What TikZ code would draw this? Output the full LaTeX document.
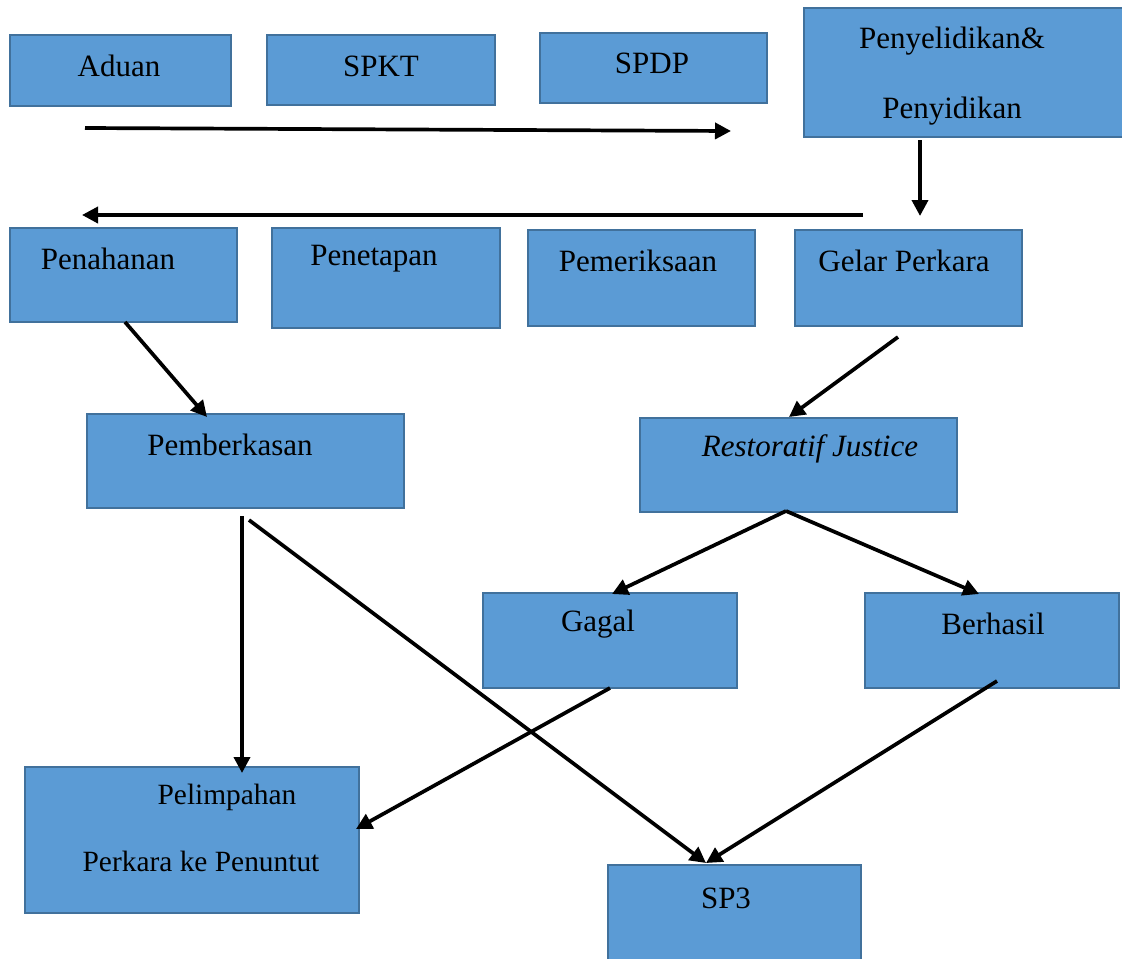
\documentclass[tikz,border=0pt]{standalone}
\usepackage{fontspec}
\setmainfont{Liberation Serif}
\usetikzlibrary{arrows.meta}
\definecolor{boxfill}{HTML}{5B9BD5}
\definecolor{boxline}{HTML}{41719C}
\begin{document}
\begin{tikzpicture}[x=0.5pt,y=-0.5pt,
  box/.style={draw=boxline,fill=boxfill,line width=1pt,inner sep=0pt,outer sep=0pt},
  txt/.style={inner sep=0pt,font=\fontsize{15.5}{18}\selectfont,text=black},
  smalltxt/.style={txt,font=\fontsize{14.7}{17}\selectfont},
  arr/.style={line width=1.85pt,-{Triangle[length=8pt,width=8pt]}}]
\useasboundingbox (0,0) rectangle (1122,958);
\begin{scope}
\clip (0,0) rectangle (1122,958);
% boxes
\node[box,minimum width=110.5pt,minimum height=35.5pt] (aduan) at (120,70) {};
\node[box,minimum width=114pt,minimum height=35pt] (spkt) at (381,70) {};
\node[box,minimum width=113.5pt,minimum height=35pt] (spdp) at (653.5,68) {};
\node[box,minimum width=162pt,minimum height=64.5pt] (lidik) at (966,72.5) {};
\node[box,minimum width=113.5pt,minimum height=47pt] (tahan) at (123.5,275) {};
\node[box,minimum width=114pt,minimum height=50pt] (tetap) at (386,278) {};
\node[box,minimum width=113.5pt,minimum height=48pt] (periksa) at (641.5,278) {};
\node[box,minimum width=113.5pt,minimum height=48pt] (gelar) at (908.5,278) {};
\node[box,minimum width=158.5pt,minimum height=47pt] (berkas) at (245.5,461) {};
\node[box,minimum width=158.5pt,minimum height=47pt] (rj) at (798.5,465) {};
\node[box,minimum width=127pt,minimum height=47.5pt] (gagal) at (610,640.5) {};
\node[box,minimum width=127pt,minimum height=47.5pt] (hasil) at (992,640.5) {};
\node[box,minimum width=167pt,minimum height=73pt] (limpah) at (192,840) {};
\node[box,minimum width=126.5pt,minimum height=50pt] (sp3) at (734.5,915) {};
\end{scope}
% texts
\node[txt] (t1) at (119,66) {Aduan};
\node[txt] (t2) at (381,66) {SPKT};
\node[txt] (t3) at (652,63) {SPDP};
\node[txt] (t4) at (952,41) {Penyelidikan\&};
\node[txt] (t5) at (952,111) {Penyidikan};
\node[txt] (t6) at (108,259) {Penahanan};
\node[txt] (t7) at (374,259) {Penetapan};
\node[txt] (t8) at (638,261) {Pemeriksaan};
\node[txt] (t9) at (904,261) {Gelar Perkara};
\node[txt] (t10) at (230,445) {Pemberkasan};
\node[txt] (t11) at (810,449) {\itshape Restoratif Justice};
\node[txt] (t12) at (598,624) {Gagal};
\node[txt] (t13) at (993,624) {Berhasil};
\node[smalltxt] (t14) at (227,797) {Pelimpahan};
\node[smalltxt] (t15) at (201,861) {Perkara ke Penuntut};
\node[txt] (t16) at (726,898) {SP3};
% connector end points
\coordinate (c1) at (85,128);
\coordinate (c2) at (731,131);
\coordinate (c3) at (920,140);
\coordinate (c4) at (920,216);
\coordinate (c5) at (863,215);
\coordinate (c6) at (82,215);
\coordinate (c7) at (125,322);
\coordinate (c8) at (207,417);
\coordinate (c9) at (898,337);
\coordinate (c10) at (789,417);
\coordinate (c11) at (786,511);
\coordinate (c12) at (612,594);
\coordinate (c13) at (979,594);
\coordinate (c14) at (242,516);
\coordinate (c15) at (242,773);
\coordinate (c16) at (249,520);
\coordinate (c17) at (706,863);
\coordinate (c18) at (610,688);
\coordinate (c19) at (356,829);
\coordinate (c20) at (997,681);
% connectors
\draw[arr] (c1) -- (c2);
\draw[arr] (c3) -- (c4);
\draw[arr] (c5) -- (c6);
\draw[arr] (c7) -- (c8);
\draw[arr] (c9) -- (c10);
\draw[arr] (c11) -- (c12);
\draw[arr] (c11) -- (c13);
\draw[arr] (c14) -- (c15);
\draw[arr] (c16) -- (c17);
\draw[arr] (c18) -- (c19);
\draw[arr] (c20) -- (c17);
\end{tikzpicture}
\end{document}
